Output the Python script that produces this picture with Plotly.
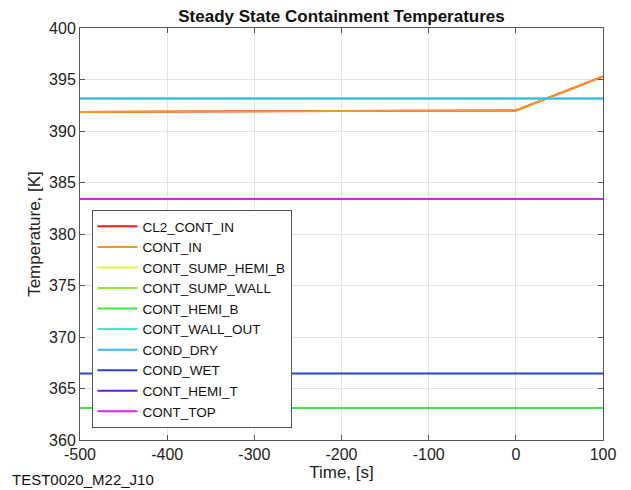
import plotly.graph_objects as go

names = ["CL2_CONT_IN", "CONT_IN", "CONT_SUMP_HEMI_B", "CONT_SUMP_WALL", "CONT_HEMI_B",
         "CONT_WALL_OUT", "COND_DRY", "COND_WET", "CONT_HEMI_T", "CONT_TOP"]
colors = ["#ff1a1a", "#f5962a", "#eef23a", "#8fe83a", "#3ee63e",
          "#3ee8c8", "#38b8ee", "#2a3ed8", "#5a22d8", "#d822e8"]
time_flat = [-500, 100]
time_in = [-500, 0, 100]
values = {
    "CL2_CONT_IN": [391.85, 392.0, 395.3],
    "CONT_IN": [391.85, 392.0, 395.3],
    "CONT_SUMP_HEMI_B": [363.1, 363.1],
    "CONT_SUMP_WALL": [363.1, 363.1],
    "CONT_HEMI_B": [363.1, 363.1],
    "CONT_WALL_OUT": [393.15, 393.15],
    "COND_DRY": [393.15, 393.15],
    "COND_WET": [366.45, 366.45],
    "CONT_HEMI_T": [383.4, 383.4],
    "CONT_TOP": [383.4, 383.4],
}
x_ticks = [-500, -400, -300, -200, -100, 0, 100]
x_labels = ["-500", "-400", "-300", "-200", "-100", "0", "100"]
y_ticks = [360, 365, 370, 375, 380, 385, 390, 395, 400]

fig = go.Figure()
for n, c in zip(names, colors):
    v = values[n]
    x = time_in if len(v) == 3 else time_flat
    fig.add_trace(go.Scatter(x=x, y=v, mode="lines", name=n,
                             line=dict(color=c, width=2)))

font = "Liberation Sans, Arial, Helvetica, sans-serif"
axis_common = dict(showline=True, linecolor="#555", linewidth=1, mirror="ticks",
                   ticks="inside", ticklen=5, tickcolor="#555",
                   showgrid=True, gridcolor="#e4e4e4", gridwidth=1,
                   zeroline=False, tickfont=dict(size=16, color="#222"))
fig.update_layout(
    width=631, height=490,
    margin=dict(l=80, r=28, t=28, b=50),
    paper_bgcolor="white", plot_bgcolor="white",
    font=dict(family=font, color="#222"),
    title=dict(text="<b>Steady State Containment Temperatures</b>", x=0.5, xanchor="center",
               xref="paper", y=0.967, yanchor="middle", font=dict(size=17, color="#111")),
    xaxis=dict(range=[-500, 100], tickvals=x_ticks, ticktext=x_labels,
               title=dict(text="Time, [s]", font=dict(size=17), standoff=2), **axis_common),
    yaxis=dict(range=[360, 400], tickvals=y_ticks,
               title=dict(text="Temperature, [K]", font=dict(size=17), standoff=4), **axis_common),
    legend=dict(x=0.022, y=0.029, xanchor="left", yanchor="bottom",
                bgcolor="white", bordercolor="#555", borderwidth=1,
                font=dict(size=13.5, color="#111"), tracegroupgap=0, itemwidth=40),
    showlegend=True,
)
fig.add_annotation(text="TEST0020_M22_J10", xref="paper", yref="paper",
                   x=-0.134, y=-0.097, xanchor="left", yanchor="middle", showarrow=False,
                   font=dict(size=15, color="#111"))
fig.write_html("out.html")
